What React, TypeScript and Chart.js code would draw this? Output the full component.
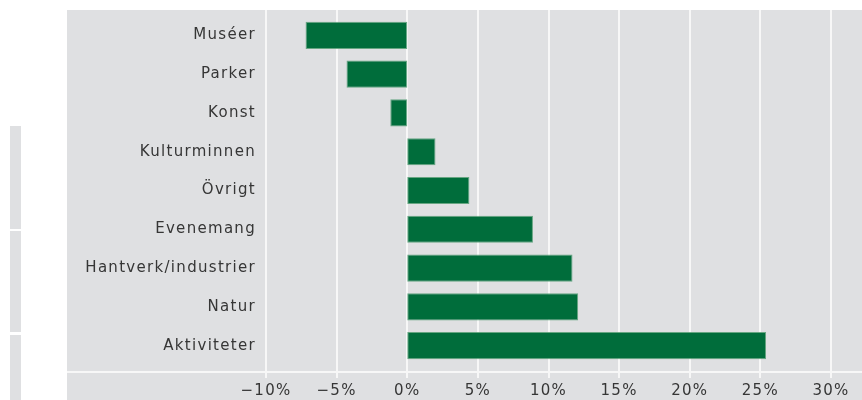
import React, { useEffect, useRef } from "react";
import { Chart, registerables } from "chart.js";

Chart.register(...registerables);

const categories = [
  "Muséer",
  "Parker",
  "Konst",
  "Kulturminnen",
  "Övrigt",
  "Evenemang",
  "Hantverk/industrier",
  "Natur",
  "Aktiviteter",
];
const values = [-7.2, -4.3, -1.2, 2.0, 4.4, 8.9, 11.7, 12.1, 25.4];
const xTickValues = [-10, -5, 0, 5, 10, 15, 20, 25, 30];
const xTickLabels = ["−10%", "−5%", "0%", "5%", "10%", "15%", "20%", "25%", "30%"];

const PANEL = "#dfe0e2";
const BAR = "#006d3b";
const TEXT = "#363636";
const FONT = "'DejaVu Sans', sans-serif";

const backdrop = {
  id: "backdrop",
  beforeDraw(chart: any) {
    const ctx = chart.ctx;
    const xs = chart.scales.x;
    ctx.save();
    ctx.fillStyle = PANEL;
    ctx.fillRect(67, 10, chart.width - 67, chart.height - 10);
    // left decorative strips
    ctx.fillRect(10, 126, 11, 103);
    ctx.fillRect(10, 231, 11, 101);
    ctx.fillRect(10, 335, 11, chart.height - 335);
    ctx.strokeStyle = "#f7f7f7";
    ctx.lineWidth = 2;
    xTickValues.forEach((v) => {
      const x = Math.round(xs.getPixelForValue(v));
      ctx.beginPath();
      ctx.moveTo(x, 10);
      ctx.lineTo(x, 378);
      ctx.stroke();
    });
    ctx.beginPath();
    ctx.moveTo(67, 372);
    ctx.lineTo(chart.width, 372);
    ctx.stroke();
    ctx.restore();
    try {
      (ctx as any).letterSpacing = "1.3px";
    } catch (e) {}
  },
};

export default function App() {
  const ref = useRef<HTMLCanvasElement | null>(null);
  useEffect(() => {
    if (!ref.current) return;
    const chart = new Chart(ref.current, {
      type: "bar",
      data: {
        labels: categories,
        datasets: [
          {
            data: values,
            backgroundColor: BAR,
            borderColor: "rgba(90,160,120,0.9)",
            borderWidth: 1,
            borderSkipped: false,
            barPercentage: 0.7,
            categoryPercentage: 1,
          },
        ],
      },
      options: {
        indexAxis: "y",
        animation: false,
        responsive: false,
        devicePixelRatio: 1,
        layout: { padding: { top: 16, right: 31, left: 0, bottom: 0 } },
        plugins: { legend: { display: false }, tooltip: { enabled: false } },
        scales: {
          x: {
            type: "linear",
            min: -10,
            max: 30,
            afterBuildTicks: (s: any) => {
              s.ticks = xTickValues.map((v) => ({ value: v }));
            },
            afterFit: (s: any) => {
              s.height = 35;
              s.paddingLeft = 0;
              s.paddingRight = 0;
            },
            grid: { display: false, drawTicks: false },
            border: { display: false },
            ticks: {
              padding: 17,
              color: TEXT,
              font: { family: FONT, size: 15 },
              maxRotation: 0,
              callback: (_v: any, i: number) => xTickLabels[i],
            },
          },
          y: {
            type: "category",
            afterFit: (s: any) => {
              s.width = 266;
              s.paddingTop = 0;
              s.paddingBottom = 0;
            },
            grid: { display: false, drawTicks: false },
            border: { display: false },
            ticks: {
              padding: 10,
              color: TEXT,
              font: { family: FONT, size: 15 },
            },
          },
        },
      },
      plugins: [backdrop],
    });
    return () => chart.destroy();
  }, []);
  return (
    <div style={{ position: "fixed", left: 0, top: 0, width: 862, height: 400, background: "#fff" }}>
      <canvas ref={ref} width={862} height={400} style={{ display: "block" }} />
    </div>
  );
}
